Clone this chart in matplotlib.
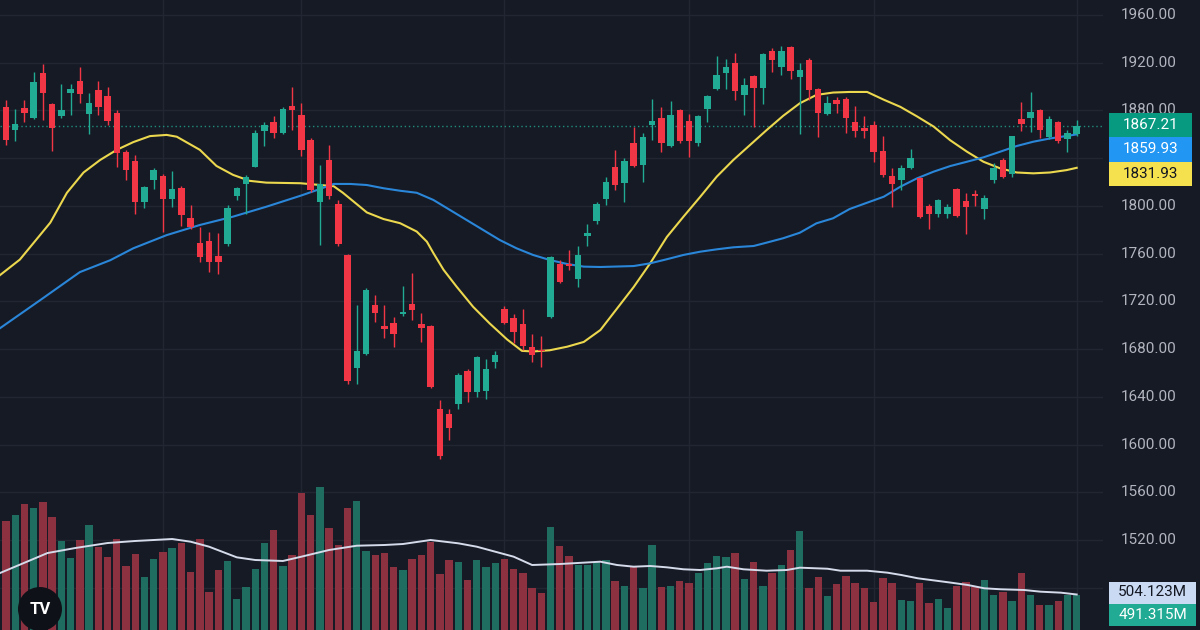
import matplotlib
matplotlib.use("Agg")
import matplotlib.pyplot as plt
from matplotlib.patches import Circle, Rectangle
from matplotlib.transforms import blended_transform_factory

# daily candles
opens = [1883, 1864, 1882, 1874, 1911, 1885, 1875, 1895, 1905, 1877,
         1897, 1892, 1878, 1845, 1838, 1803.5, 1822, 1825, 1806, 1815,
         1790, 1769, 1771, 1758, 1768, 1808, 1818, 1833, 1863, 1870,
         1861, 1884, 1876, 1855, 1803, 1838.5, 1802, 1759, 1664, 1676,
         1717, 1699, 1702, 1709, 1718, 1701, 1699, 1629.5, 1626, 1634,
         1662, 1644, 1645, 1669, 1714, 1706, 1701, 1682, 1679, 1707,
         1751, 1751, 1739, 1775, 1787, 1806, 1833, 1819, 1852.5, 1834,
         1868, 1874, 1850, 1880, 1871, 1853, 1881, 1898, 1911, 1919.5,
         1893, 1909, 1899, 1930, 1916, 1933, 1908, 1922, 1898, 1877,
         1889, 1890, 1870.6, 1865, 1868, 1846, 1825, 1822, 1832, 1823,
         1800, 1793, 1793, 1814, 1804, 1810, 1797, 1822, 1838.5, 1827,
         1872.6, 1873.4, 1880, 1857.5, 1870, 1856, 1860]
highs = [1889, 1881, 1889, 1912, 1919, 1886, 1902, 1902, 1916, 1895,
         1905, 1900, 1880, 1847, 1843, 1817, 1832, 1827, 1829, 1817,
         1801, 1782, 1778, 1777, 1801, 1816, 1826, 1864, 1870, 1875,
         1883, 1900, 1886, 1857, 1834, 1851, 1805, 1760, 1717, 1731,
         1725, 1717, 1707, 1733, 1743.5, 1710, 1700, 1637, 1630, 1660,
         1663, 1674, 1672, 1678, 1716, 1709, 1714, 1693, 1691, 1758,
         1755, 1763, 1766, 1785, 1803.5, 1824.5, 1847, 1840, 1866, 1861,
         1890, 1883, 1888, 1881, 1877, 1876, 1893, 1925.6, 1923, 1928,
         1907, 1910, 1928.4, 1932, 1934, 1934, 1920, 1924, 1899, 1892,
         1891.5, 1891, 1883.5, 1875, 1871, 1859, 1831.5, 1834, 1848, 1824,
         1801.6, 1806, 1802, 1815, 1811, 1813, 1809, 1836, 1840, 1859,
         1887, 1895.7, 1881, 1875, 1871, 1864, 1872]
lows = [1851, 1854, 1870, 1873, 1872, 1846, 1874, 1876, 1886, 1860,
        1876, 1868, 1833, 1822, 1793, 1798, 1814, 1778, 1799, 1783,
        1781, 1753, 1745, 1743, 1766, 1805, 1793, 1833, 1850, 1857,
        1860, 1864, 1842, 1812, 1767, 1806, 1766, 1651, 1651, 1675,
        1703, 1689, 1681.5, 1708, 1704, 1686, 1647, 1588, 1604, 1630,
        1636, 1640, 1638, 1664, 1701, 1685, 1679, 1669, 1665, 1706,
        1735, 1746, 1732, 1766, 1785, 1801, 1813, 1803, 1833, 1820,
        1855, 1845, 1849, 1853, 1841, 1850, 1870, 1897, 1898, 1889,
        1876, 1866, 1885, 1912, 1910, 1906, 1860, 1889, 1857.5, 1876,
        1878, 1861, 1858, 1857, 1837, 1824.5, 1799, 1813, 1831, 1790,
        1781, 1790.4, 1790, 1791, 1776.5, 1800, 1789, 1819, 1823, 1824,
        1863, 1862, 1857, 1856, 1852.5, 1845, 1859]
closes = [1855, 1869, 1878, 1904, 1895, 1865, 1880, 1898, 1894, 1886,
          1883, 1871, 1844, 1830, 1803, 1816, 1830, 1806, 1814, 1792,
          1782, 1757, 1753, 1753, 1798, 1815, 1824.5, 1861, 1868, 1861,
          1881, 1880, 1847, 1813, 1818, 1808, 1768, 1653, 1678, 1729.5,
          1710, 1697, 1693, 1711, 1713, 1698, 1648, 1590, 1614, 1658,
          1644, 1673, 1663, 1675, 1702, 1694, 1683, 1675, 1678, 1757,
          1736.5, 1750, 1759, 1777, 1801.6, 1820, 1817.5, 1837.6, 1833.4, 1858,
          1871, 1853, 1876, 1854, 1854, 1875, 1892, 1909.7, 1916, 1896,
          1901, 1899, 1927, 1922, 1930, 1913, 1914, 1897, 1877.6, 1886.5,
          1885, 1874, 1863, 1863, 1845, 1826, 1818, 1831.5, 1840, 1791,
          1793, 1805, 1799, 1791.5, 1799, 1808, 1807, 1832, 1824.5, 1858.6,
          1868.6, 1879, 1863.6, 1872.6, 1854, 1861, 1867.21]
# volume in millions
volumes = [1552, 1633, 1789, 1737, 1818, 1609, 1264, 1027, 1278, 1487,
           1183, 1032, 1288, 909, 1079, 748, 1008, 1112, 1160, 1240,
           828, 1288, 535, 852, 984, 436, 615, 862, 1240, 1420,
           909, 1065, 1941, 1633, 2026, 1444, 1207, 1728, 1832, 1126,
           1065, 1098, 890, 852, 1004, 1065, 1254, 795, 994, 970,
           710, 994, 890, 956, 1008, 862, 814, 592, 521, 1467,
           1193, 1055, 923, 923, 970, 994, 700, 625, 890, 601,
           1207, 615, 625, 700, 672, 814, 956, 1051, 1032, 1089,
           724, 970, 625, 814, 923, 1136, 1410, 601, 748, 487,
           649, 767, 663, 592, 402, 734, 663, 426, 412, 672,
           388, 440, 308, 625, 686, 615, 710, 497, 544, 412,
           805, 497, 355, 355, 416, 497, 491.315]

# moving averages, sampled from the lines
ma_fast_x = [-0.65, 1.5, 4.8, 6.6, 8.4, 10.2, 12.0, 13.8, 15.6, 17.4,
             18.5, 21.0, 22.8, 24.6, 26.4, 28.2, 31.9, 35.5, 36.5, 39.1,
             40.9, 42.7, 44.5, 45.6, 46.3, 47.4, 48.8, 50.6, 52.4, 54.3,
             55.9, 57.1, 58.9, 60.8, 62.6, 64.4, 66.2, 68.0, 69.8, 71.6,
             73.4, 75.2, 77.0, 78.8, 80.6, 82.4, 84.2, 86.0, 87.8, 89.6,
             91.4, 93.3, 95.1, 96.9, 98.7, 100.5, 102.3, 104.1, 105.9, 107.7,
             109.5, 111.3, 113.1, 114.9, 116]
ma_fast = [1742, 1755, 1786, 1811, 1828, 1838.5, 1847, 1853.5, 1858.5, 1859.5,
           1858, 1847, 1833.5, 1826, 1821, 1819.5, 1819, 1816.5, 1811, 1794.5,
           1789, 1785.5, 1778.5, 1770, 1760.5, 1746.5, 1732.5, 1715.5, 1701.5, 1688,
           1678.5, 1678, 1679, 1682, 1686, 1696, 1714, 1732, 1752, 1774,
           1791, 1807.5, 1824.5, 1838.5, 1851, 1863.5, 1875.5, 1886, 1893, 1895,
           1895.5, 1895.5, 1889, 1883, 1875, 1866.5, 1855, 1845.5, 1837, 1831.5,
           1828, 1827.3, 1828, 1830, 1831.93]
ma_slow_x = [-0.65, 3.7, 8.0, 11.3, 13.8, 17.4, 21.0, 24.6, 28.2, 31.9,
             33.7, 35.5, 37.3, 39.1, 40.9, 42.7, 44.5, 46.3, 48.1, 49.9,
             51.7, 53.5, 55.3, 57.1, 58.9, 60.8, 62.6, 64.4, 68.0, 69.8,
             71.6, 73.4, 75.2, 77.0, 78.8, 81.0, 82.4, 84.2, 86.0, 87.8,
             89.6, 91.4, 93.3, 95.1, 96.9, 98.7, 100.5, 102.3, 104.1, 105.9,
             107.7, 109.5, 111.3, 113.1, 114.9, 116]
ma_slow = [1697.5, 1721, 1744.5, 1754.5, 1764.5, 1775.5, 1784, 1791, 1799.3, 1808.5,
           1813.3, 1818.4, 1818.4, 1817.5, 1814.8, 1812.7, 1811, 1805, 1796.6, 1788.2,
           1779.8, 1771.4, 1764.5, 1758.9, 1754.7, 1751.3, 1749.1, 1748.8, 1749.6, 1751.9,
           1755.3, 1758.9, 1761.6, 1763.6, 1765.3, 1766.4, 1769.2, 1772.9, 1777.5, 1785.4,
           1789.6, 1797.4, 1802.7, 1807.7, 1816.1, 1823.1, 1828.7, 1833.4, 1837, 1840.7,
           1845.4, 1850.2, 1853.8, 1856.5, 1858.6, 1859.93]
vol_ma_x = [-0.65, 4.5, 7.5, 11, 14, 18, 20, 22, 25, 27,
            30, 32, 35, 38, 41, 43, 46, 49, 51, 53,
            55, 57, 60, 64.4, 66.2, 68, 69.8, 71.6, 73.4, 75.2,
            77, 78.1, 79.9, 82.4, 84.6, 86, 89, 90.4, 93.3, 95.5,
            97, 98.8, 102.4, 104.2, 106, 107.8, 110.3, 112.1, 114.3, 116]
vol_ma = [809, 1093, 1164, 1235, 1264, 1292, 1254, 1183, 1032, 994,
          980, 1041, 1136, 1197, 1207, 1221, 1278, 1231, 1183, 1112,
          1041, 923, 937, 970, 923, 899, 909, 890, 862, 852,
          876, 899, 862, 842, 852, 885, 870, 842, 842, 814,
          781, 734, 672, 639, 592, 578, 568, 544, 530, 504.123]

grid_ticks = [1480, 1520, 1560, 1600, 1640, 1680, 1720, 1760, 1800, 1840, 1880, 1920, 1960]
# 1840 and 1480 sit under the value tags, so they are not labelled
label_ticks = [1520, 1560, 1600, 1640, 1680, 1720, 1760, 1800, 1880, 1920, 1960]
month_marks = [17, 32, 54, 74, 94, 116]

last_price = 1867.21
last_slow = 1859.93
last_fast = 1831.93
last_vol_ma = 504.123
last_vol = 491.315

BG = '#161a25'
GRID = '#222633'
UP = '#22ab94'
DOWN = '#f23645'
UP_VOL = '#1f6c60'
DOWN_VOL = '#8b3140'
YELLOW = '#ecd84e'
BLUE = '#2a86d8'
TXT = '#b2b5be'
plt.rcParams['font.family'] = ['Roboto', 'DejaVu Sans']

W, H = 1200, 630
fig = plt.figure(figsize=(W / 100, H / 100), dpi=100, facecolor=BG)
plot_w = 1103 / W

ax = fig.add_axes([0, 0, plot_w, 1])
ax.set_facecolor(BG)
ax.set_xlim(-0.65, 118.85)
ax.set_ylim(1444.56, 1972.57)
ax.axis('off')

for p in grid_ticks:
    ax.axhline(p, color=GRID, lw=1, zorder=0)
for m in month_marks:
    ax.axvline(m, color=GRID, lw=1, zorder=0)

# volume pane (transparent, same area)
axv = fig.add_axes([0, 0, plot_w, 1], sharex=ax)
axv.set_facecolor('none')
axv.set_ylim(0, 8946)
axv.axis('off')

idx = list(range(len(opens)))
up = [c >= o for o, c in zip(opens, closes)]
axv.bar(idx, volumes, width=0.8, color=[UP_VOL if u else DOWN_VOL for u in up], zorder=1)
axv.plot(vol_ma_x, vol_ma, color='#d5dbea', lw=1.4, zorder=2)

# candles + moving averages on top
axp = fig.add_axes([0, 0, plot_w, 1], sharex=ax)
axp.set_facecolor('none')
axp.set_ylim(ax.get_ylim())
axp.axis('off')

axp.axhline(last_price, color=UP, lw=1, ls=(0, (1, 2)), alpha=0.8, zorder=1)
axp.plot(ma_fast_x, ma_fast, color=YELLOW, lw=1.5, zorder=2)
axp.plot(ma_slow_x, ma_slow, color=BLUE, lw=1.5, zorder=2)

cols = [UP if u else DOWN for u in up]
axp.vlines(idx, lows, highs, colors=cols, lw=1, zorder=3)
bottoms = [min(o, c) for o, c in zip(opens, closes)]
heights = [max(abs(c - o), 1.0) for o, c in zip(opens, closes)]
axp.bar(idx, heights, bottom=bottoms, width=0.7, color=cols, zorder=4)

# price scale labels
tr = blended_transform_factory(ax.transAxes, ax.transData)
for p in label_ticks:
    ax.text(1121 / 1103, p, f"{p:.2f}", transform=tr, ha='left', va='center',
            fontsize=11, color=TXT, clip_on=False)


def tag(y0, y1, x0, x1, color, text, tcolor):
    fig.add_artist(Rectangle((x0 / W, 1 - y1 / H), (x1 - x0) / W, (y1 - y0) / H,
                             transform=fig.transFigure, facecolor=color,
                             edgecolor='none', zorder=5))
    fig.text((x0 + x1) / 2 / W, 1 - (y0 + y1) / 2 / H, text, ha='center',
             va='center', fontsize=11, color=tcolor, zorder=6)


tag(113, 137, 1109, 1192, '#089981', f"{last_price:.2f}", 'white')
tag(137, 161.5, 1109, 1192, '#2196f3', f"{last_slow:.2f}", 'white')
tag(161.5, 185.5, 1109, 1192, '#f5e04e', f"{last_fast:.2f}", '#131722')
tag(581.5, 603.5, 1109, 1196, '#c9daf2', f"{last_vol_ma:.3f}M", '#131722')
tag(603.5, 626, 1109, 1196, '#22ab94', f"{last_vol:.3f}M", 'white')

# TradingView badge
fig.add_artist(Circle((0.40, 0.21), 0.22, transform=fig.dpi_scale_trans,
                      facecolor='#0f1118', edgecolor='none', zorder=7))
fig.text(40 / W, 1 - 610 / H, "TV", ha='center', va='center', fontsize=12,
         fontweight='bold', color='white', zorder=8)

fig.savefig('out.png', dpi=100, facecolor=BG)
